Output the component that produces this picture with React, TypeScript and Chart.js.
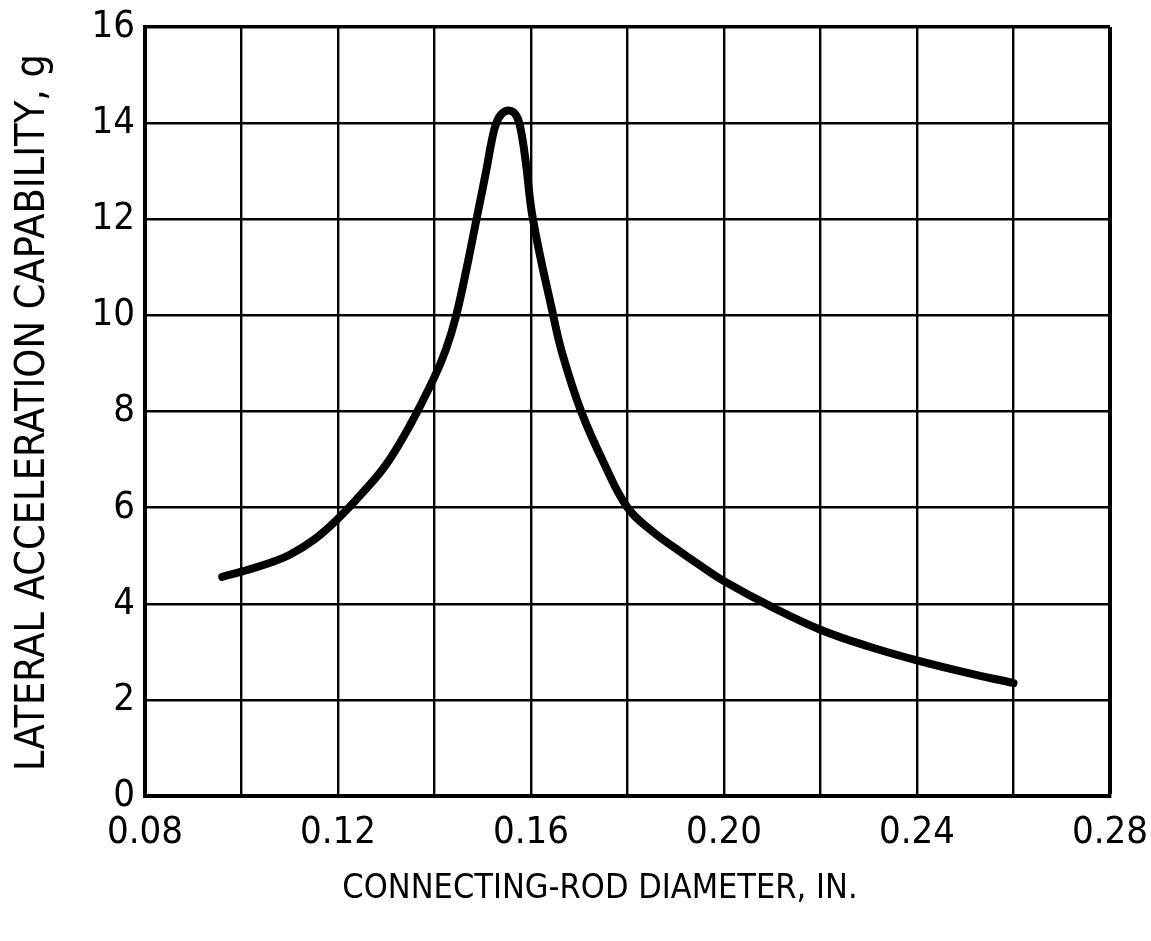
import React, { useEffect, useRef } from "react";
import { Chart, registerables } from "chart.js";

Chart.register(...registerables);

// ---- data ----
const diameter = [
  0.096, 0.1, 0.105, 0.11, 0.115, 0.12, 0.125, 0.13, 0.135, 0.14, 0.1424,
  0.1445, 0.1467, 0.1487, 0.1507, 0.1518, 0.1528, 0.154, 0.1556, 0.157,
  0.1579, 0.1589, 0.1604, 0.1646, 0.1665, 0.1704, 0.175, 0.18, 0.185, 0.19,
  0.195, 0.2, 0.21, 0.22, 0.23, 0.24, 0.25, 0.26,
];
const acceleration = [
  4.56, 4.67, 4.82, 5.02, 5.33, 5.77, 6.3, 6.9, 7.73, 8.72, 9.3,
  10.0, 11.0, 12.0, 13.0, 13.6, 14.0, 14.2, 14.26, 14.15,
  13.85, 13.2, 12.0, 10.0, 9.2, 8.0, 6.95, 6.0, 5.52, 5.15,
  4.8, 4.47, 3.93, 3.46, 3.11, 2.82, 2.57, 2.35,
];
const xGridValues = [0.08, 0.1, 0.12, 0.14, 0.16, 0.18, 0.2, 0.22, 0.24, 0.26, 0.28];
const xTickLabels = ["0.08", "", "0.12", "", "0.16", "", "0.20", "", "0.24", "", "0.28"];
const yGridValues = [0, 2, 4, 6, 8, 10, 12, 14, 16];
const yTickLabels = ["0", "2", "4", "6", "8", "10", "12", "14", "16"];
const xTitle = "CONNECTING-ROD DIAMETER, IN.";
const yTitle = "LATERAL ACCELERATION CAPABILITY, g";

const FONT = "'Liberation Sans Narrow', 'DejaVu Sans Condensed', sans-serif";

const titlePlugin = {
  id: "axisTitlesDrawn",
  afterDraw(chart: any) {
    const { ctx, chartArea } = chart;
    ctx.save();
    ctx.fillStyle = "#000";
    ctx.textAlign = "center";
    ctx.textBaseline = "middle";
    ctx.font = `34px ${FONT}`;
    ctx.fillText(xTitle, chartArea.left + 455, chartArea.bottom + 93);
    ctx.font = `41px ${FONT}`;
    ctx.translate(chartArea.left - 112, (chartArea.top + chartArea.bottom) / 2 + 1);
    ctx.rotate(-Math.PI / 2);
    ctx.fillText(yTitle, 0, 0);
    ctx.restore();
  },
};

export default function App() {
  const canvasRef = useRef<HTMLCanvasElement | null>(null);

  useEffect(() => {
    const canvas = canvasRef.current;
    if (!canvas) return;
    const points = diameter.map((d, i) => ({ x: d, y: acceleration[i] }));
    const chart = new Chart(canvas, {
      type: "line",
      data: {
        datasets: [
          {
            data: points,
            borderColor: "#000",
            borderWidth: 8,
            borderCapStyle: "round",
            borderJoinStyle: "round",
            pointRadius: 0,
            tension: 0.4,
            fill: false,
          },
        ],
      },
      options: {
        animation: false,
        responsive: false,
        maintainAspectRatio: false,
        layout: { padding: { left: 0, top: 27, right: 41, bottom: 0 } },
        plugins: { legend: { display: false }, tooltip: { enabled: false } },
        scales: {
          x: {
            type: "linear",
            min: 0.08,
            max: 0.28,
            afterBuildTicks: (axis: any) => {
              axis.ticks = xGridValues.map((v) => ({ value: v }));
            },
            afterFit: (scale: any) => {
              scale.height = 145;
              scale.paddingLeft = 0;
              scale.paddingRight = 0;
            },
            ticks: {
              autoSkip: false,
              maxRotation: 0,
              color: "#000",
              padding: 14,
              font: { family: FONT, size: 38 },
              callback: (_v: any, index: number) => xTickLabels[index],
            },
            grid: {
              color: "#000",
              lineWidth: (ctx: any) => (ctx.index === xGridValues.length - 1 ? 4 : 2.4),
              drawTicks: false,
              tickLength: 0,
            },
            border: { display: true, color: "#000", width: 4 },
          },
          y: {
            type: "linear",
            min: 0,
            max: 16,
            afterBuildTicks: (axis: any) => {
              axis.ticks = yGridValues.map((v) => ({ value: v }));
            },
            afterFit: (scale: any) => {
              scale.width = 145;
              scale.paddingTop = 0;
              scale.paddingBottom = 0;
            },
            ticks: {
              autoSkip: false,
              color: "#000",
              padding: 10,
              font: { family: FONT, size: 38 },
              callback: (_v: any, index: number) => yTickLabels[index],
            },
            grid: {
              color: "#000",
              lineWidth: (ctx: any) => (ctx.index === yGridValues.length - 1 ? 3.5 : 2.4),
              drawTicks: false,
              tickLength: 0,
            },
            border: { display: true, color: "#000", width: 4 },
          },
        },
      },
      plugins: [titlePlugin],
    } as any);
    return () => chart.destroy();
  }, []);

  return (
    <div style={{ position: "fixed", left: 0, top: 0, width: 1151, height: 941, background: "#fff" }}>
      <canvas ref={canvasRef} width={1151} height={941} style={{ display: "block" }} />
    </div>
  );
}
